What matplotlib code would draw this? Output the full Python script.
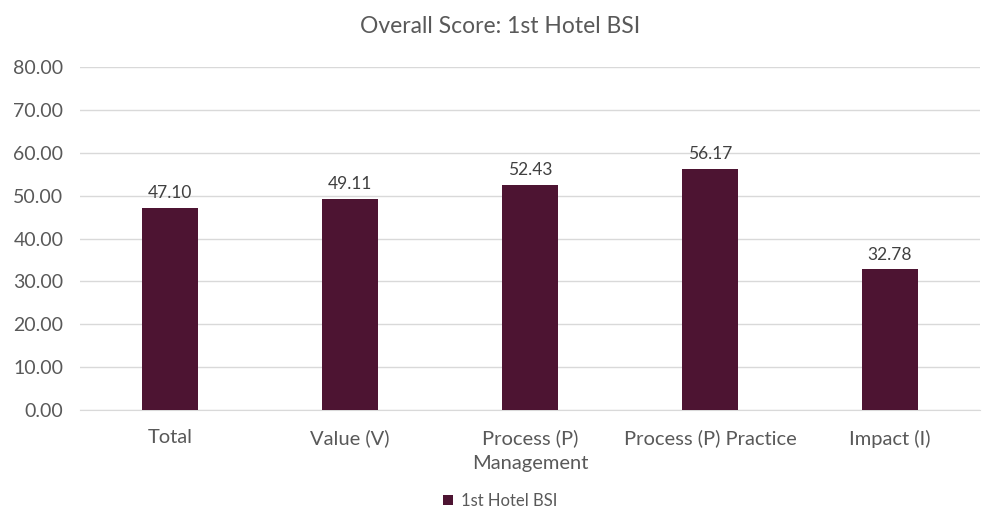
import matplotlib
matplotlib.use("Agg")
import matplotlib.pyplot as plt
import numpy as np

categories = ["Total", "Value (V)", "Process (P)\nManagement", "Process (P) Practice", "Impact (I)"]
scores = [47.10, 49.11, 52.43, 56.17, 32.78]
series_name = "1st Hotel BSI"
yticks = [0, 10, 20, 30, 40, 50, 60, 70, 80]

BAR = "#4D1432"
TXT = "#595959"
GRID = "#D9D9D9"

plt.rcParams["font.family"] = ["Lato", "DejaVu Sans"]

fig = plt.figure(figsize=(10, 5.3), dpi=100)
ax = fig.add_axes([0.08, 0.2264, 0.90, 0.6472])

x = np.arange(len(categories))
bars = ax.bar(x, scores, width=0.315, color=BAR, label=series_name, zorder=3)
for b, v in zip(bars, scores):
    ax.annotate(f"{v:.2f}", (b.get_x() + b.get_width() / 2, v),
                xytext=(0, 5), textcoords="offset points",
                ha="center", va="bottom", fontsize=12.5, color="#404040")

ax.set_xlim(-0.5, len(categories) - 0.5)
ax.set_ylim(0, 80)
ax.set_yticks(yticks)
ax.set_yticklabels([f"{t:.2f}" for t in yticks], fontsize=14, color=TXT)
ax.set_xticks(x)
ax.set_xticklabels(categories, fontsize=14.5, color=TXT, linespacing=1.55)
ax.tick_params(axis="both", length=0)
ax.tick_params(axis="x", pad=14)
ax.tick_params(axis="y", pad=12)
ax.grid(axis="y", color=GRID, linewidth=1, zorder=0)
for s in ["top", "right", "left"]:
    ax.spines[s].set_visible(False)
ax.spines["bottom"].set_color(GRID)

fig.suptitle("Overall Score: 1st Hotel BSI", y=0.97, fontsize=16.5, color=TXT)
fig.legend(loc="center", bbox_to_anchor=(0.5, 0.055), frameon=False,
           fontsize=12, handlelength=0.6, handleheight=0.6,
           handletextpad=0.5, labelcolor=TXT)

fig.savefig("out.png", dpi=100)
